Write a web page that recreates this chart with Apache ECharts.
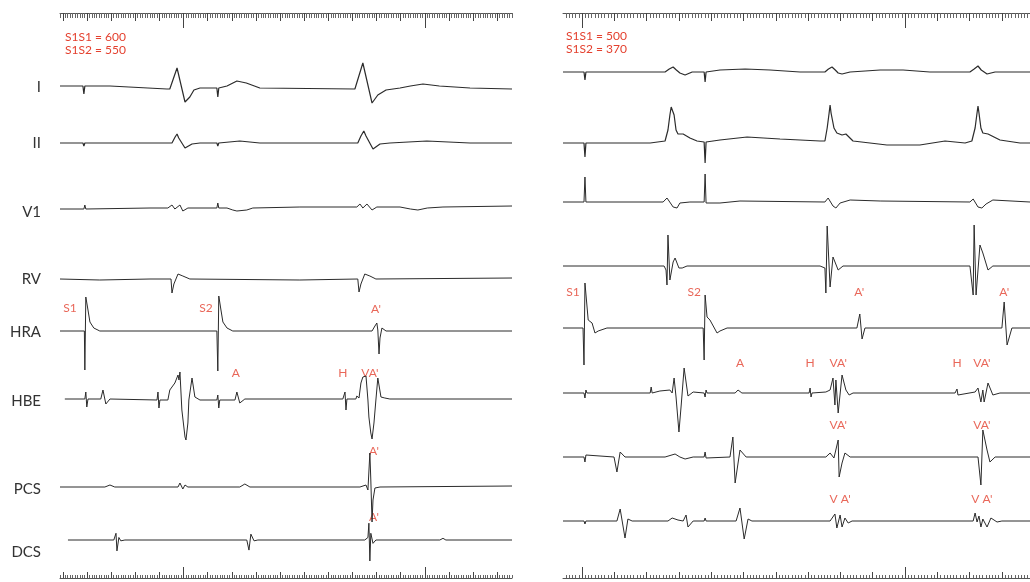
<!DOCTYPE html>
<html><head><meta charset="utf-8">
<script src="https://cdn.jsdelivr.net/npm/echarts@6/dist/echarts.min.js"></script>
<style>html,body{margin:0;padding:0;background:#fff}#c{width:1030px;height:582px}</style>
</head><body><div id="c"></div>
<script>
// ---------- DATA (time in ms, amplitude in arbitrary units, + = up) ----------
const channelNames = ['I','II','V1','RV','HRA','HBE','PCS','DCS'];

const leftProtocol = ['S1S1 = 600', 'S1S2 = 550'];
const rightProtocol = ['S1S1 = 500', 'S1S2 = 370'];

// Left panel traces
const L_I = [[-12,2],[83,2],[87,-6],[91,2],[195,2],[431,-1],[443,-1],[473,20],[506,-14],[526,-9],[543,-2],[568,0],[638,0],[642,-9],[646,0],[680,2],[721,7],[760,5],[816,0],[1210,-1],[1243,25],[1281,-15],[1305,-7],[1339,-2],[1397,0],[1440,2],[1492,4],[1560,2],[1687,0],[1861,-1]];
const L_II = [[-12,0],[83,0],[87,-3],[91,0],[452,0],[465,6],[473,9],[480,5],[506,-5],[535,-1],[568,0],[638,0],[642,-3],[646,0],[733,2],[816,0],[1222,0],[1235,7],[1247,12],[1256,7],[1285,-6],[1314,-1],[1355,0],[1508,2],[1687,0],[1861,0]];
const L_V1 = [[-12,-1],[87,-1],[91,3],[95,-1],[361,0],[435,0],[452,3],[464,-1],[485,3],[497,-3],[518,0],[638,0],[642,5],[646,0],[680,0],[704,-2],[721,-3],[762,-2],[787,0],[982,1],[1218,1],[1231,4],[1243,0],[1260,4],[1281,-2],[1301,1],[1397,1],[1440,-1],[1471,-2],[1510,0],[1575,1],[1861,2]];
const L_RV = [[-12,-1],[153,-2],[361,-1],[448,-1],[452,-15],[460,-6],[477,4],[497,2],[526,-1],[982,-2],[1222,-1],[1227,-14],[1235,-6],[1251,4],[1272,2],[1297,-1],[1861,0]];
const L_HRA = [[-12,0],[89,0],[91,-39],[95,34],[104,21],[112,9],[128,3],[153,0],[638,0],[642,-40],[646,35],[655,21],[663,9],[680,3],[704,0],[1281,0],[1293,5],[1301,8],[1305,1],[1310,-23],[1314,-7],[1322,3],[1339,0],[1861,0]];
const L_HBE = [[8,0],[91,0],[95,7],[99,-8],[104,0],[157,0],[166,9],[178,-5],[195,0],[390,-1],[394,7],[398,-9],[402,-1],[435,-1],[443,9],[464,16],[477,24],[481,19],[485,27],[493,-11],[506,-38],[510,-41],[518,-24],[522,-1],[535,21],[547,2],[568,-1],[638,-1],[642,4],[646,-9],[650,-1],[713,-1],[721,7],[733,-4],[754,0],[1160,0],[1169,7],[1173,-11],[1177,0],[1214,0],[1218,3],[1227,1],[1235,16],[1243,22],[1256,23],[1264,-1],[1268,-18],[1276,-34],[1281,-40],[1289,-24],[1297,-1],[1305,21],[1318,2],[1334,1],[1355,0],[1861,0]];
const L_PCS = [[-12,0],[174,0],[195,2],[215,0],[477,0],[485,4],[497,-2],[506,2],[518,0],[733,0],[754,3],[775,0],[1231,0],[1256,2],[1264,-3],[1272,34],[1276,7],[1281,-35],[1285,-13],[1293,-1],[1314,0],[1861,1]];
const L_DCS = [[21,0],[211,0],[220,8],[224,-13],[232,3],[240,-1],[257,0],[762,0],[771,-12],[779,7],[792,-1],[808,0],[1251,0],[1264,3],[1268,20],[1272,-25],[1276,8],[1285,-4],[1297,0],[1562,0],[1575,2],[1587,0],[1861,0]];

// Right panel traces
const R_I = [[-59,0],[6,0],[9,-8],[12,0],[257,0],[270,3],[282,5],[292,2],[303,-1],[319,-3],[341,0],[378,0],[381,-10],[384,0],[427,2],[505,3],[582,2],[675,0],[752,0],[763,3],[774,5],[784,2],[793,-1],[805,-2],[830,0],[923,2],[994,2],[1077,0],[1201,0],[1214,3],[1226,6],[1236,2],[1245,0],[1254,-2],[1279,0],[1387,0]];
const R_II = [[-59,0],[6,0],[9,-14],[12,0],[211,0],[257,2],[266,13],[272,28],[276,36],[279,38],[282,36],[285,28],[291,13],[297,9],[303,8],[313,9],[334,5],[356,2],[378,1],[381,-20],[384,1],[427,3],[511,6],[613,4],[737,2],[752,2],[759,15],[765,30],[768,38],[771,30],[780,15],[789,10],[805,8],[817,9],[839,2],[944,-2],[1046,-2],[1124,2],[1186,0],[1207,2],[1217,15],[1223,30],[1226,37],[1229,30],[1235,15],[1241,10],[1257,9],[1294,3],[1356,0],[1387,0]];
const R_V1 = [[-59,0],[6,0],[9,25],[12,0],[251,0],[263,4],[269,6],[282,-5],[294,-6],[303,-1],[334,0],[378,0],[381,28],[384,-1],[427,-1],[489,1],[752,0],[762,4],[777,-4],[786,-6],[799,-1],[830,2],[923,1],[1201,0],[1211,3],[1226,-5],[1238,-6],[1251,-2],[1272,2],[1387,0]];
const R_RV = [[-59,0],[254,0],[260,-4],[263,-19],[266,31],[272,-14],[282,4],[288,8],[300,-2],[310,-2],[325,0],[737,0],[752,-2],[755,-27],[759,40],[768,-21],[777,9],[793,-4],[808,0],[1201,0],[1207,-2],[1211,-29],[1214,41],[1220,-29],[1232,21],[1241,13],[1257,-4],[1272,0],[1387,0]];
const R_HRA = [[-59,0],[3,0],[6,-37],[9,45],[19,8],[31,5],[40,-5],[50,-3],[77,0],[375,0],[378,-32],[381,33],[387,11],[396,8],[402,7],[418,-5],[427,-3],[449,0],[851,0],[860,14],[867,-11],[876,0],[1300,0],[1307,26],[1316,-17],[1331,0],[1387,0]];
const R_HBE = [[-59,0],[6,0],[9,-5],[12,3],[15,0],[211,0],[214,6],[217,0],[241,2],[272,3],[279,0],[285,15],[291,-4],[300,-39],[307,-12],[316,25],[328,-3],[344,1],[378,0],[381,-4],[384,3],[387,0],[474,0],[483,3],[495,0],[703,0],[706,5],[709,-4],[712,0],[755,1],[768,3],[777,15],[783,-12],[786,13],[793,-20],[805,18],[817,3],[827,-2],[839,0],[1155,0],[1161,4],[1164,-2],[1170,0],[1217,1],[1226,5],[1235,-9],[1241,3],[1245,-9],[1257,10],[1272,-2],[1294,0],[1387,0]];
const R_PCS = [[-59,0],[6,0],[9,-5],[12,2],[15,0],[99,0],[108,-15],[118,5],[133,0],[257,0],[288,3],[303,0],[319,-2],[344,0],[378,0],[381,5],[384,-1],[390,0],[458,0],[467,20],[474,-26],[489,7],[508,0],[755,0],[768,4],[780,-1],[793,17],[796,-20],[805,-6],[814,4],[830,0],[1226,0],[1235,-28],[1241,27],[1254,7],[1263,-5],[1279,0],[1387,0]];
const R_DCS = [[-59,0],[6,0],[9,-3],[12,0],[108,0],[118,12],[133,-17],[142,2],[155,0],[266,0],[279,3],[297,1],[313,0],[322,6],[328,-6],[344,0],[378,0],[381,3],[384,0],[477,0],[489,13],[502,-18],[514,2],[526,0],[768,0],[783,7],[789,-7],[799,6],[805,-6],[814,3],[824,-2],[836,0],[1211,0],[1217,8],[1223,-1],[1229,5],[1235,-6],[1241,2],[1254,-6],[1266,3],[1285,-1],[1300,0],[1387,0]];

// Annotations: [channel, time, amplitude, text]
const leftMarks = [['HRA',29,23,'S1'],['HRA',593,23,'S2'],['HRA',1297,22,"A'"],['HBE',717,26,'A'],['HBE',1160,26,'H'],['HBE',1272,26,"VA'"],['PCS',1289,36,"A'"],['DCS',1289,27,"A'"]];
const rightMarks = [['HRA',-28,36,'S1'],['HRA',347,36,'S2'],['HRA',858,36,"A'"],['HRA',1307,36,"A'"],['HBE',489,30,'A'],['HBE',706,30,'H'],['HBE',793,30,"VA'"],['HBE',1161,30,'H'],['HBE',1238,30,"VA'"],['PCS',793,32,"VA'"],['PCS',1238,32,"VA'"],['DCS',799,22,"V A'"],['DCS',1238,22,"V A'"]];

// Time ruler
const rulerMinorStep = 10;
const rulerMidStep = 100;
const leftLongTicks = [500, 1500];
const rightLongTicks = [0, 1000];
const leftRange = [-12, 1861];
const rightRange = [-59, 1387];

// ---------- LAYOUT ----------
const RED = '#e4412f';
const INK = '#2b2b2b';
const panels = [
  {range:leftRange, left:60, right:518, bases:[88,143,208,278,331,399,487,548],
   traces:[L_I,L_II,L_V1,L_RV,L_HRA,L_HBE,L_PCS,L_DCS], marks:leftMarks, long:leftLongTicks,
   protocol:leftProtocol, protoX:65, protoY:37},
  {range:rightRange, left:563, right:0, bases:[72,143,202,266,328,393,457,521],
   traces:[R_I,R_II,R_V1,R_RV,R_HRA,R_HBE,R_PCS,R_DCS], marks:rightMarks, long:rightLongTicks,
   protocol:rightProtocol, protoX:566, protoY:36}
];
const rulerTopY = 13, rulerBottomY = 578;
const tickLen = {top:[5,8,15], bottom:[3,6,11]};
const labelY = [87,143,212,279,332,401,489,552];

const grids=[], xAxes=[], yAxes=[], series=[];
function addGrid(g){ grids.push(g); return grids.length-1; }

panels.forEach(p => {
  channelNames.forEach((name, ci) => {
    const gi = addGrid({left:p.left, right:p.right, top:p.bases[ci]-50, height:100});
    xAxes.push({gridIndex:gi, type:'value', min:p.range[0], max:p.range[1], show:false});
    yAxes.push({gridIndex:gi, type:'value', min:-50, max:50, show:false});
    series.push({type:'line', xAxisIndex:gi, yAxisIndex:gi, data:p.traces[ci], showSymbol:false, symbol:'none',
      lineStyle:{color:INK, width:(ci<2?1.2:1)}, clip:false, silent:true, animation:false});
    const m = p.marks.filter(d => d[0]===name).map(d => [d[1], d[2], d[3]]);
    if (m.length) series.push({type:'scatter', xAxisIndex:gi, yAxisIndex:gi, data:m, symbolSize:1,
      itemStyle:{color:'rgba(0,0,0,0)'}, clip:false, silent:true, animation:false,
      label:{show:true, position:'inside', formatter:q => q.value[2], color:RED, fontSize:12, fontFamily:'Lato'}});
  });
  const minor=[], mid=[];
  for (let v = Math.ceil(p.range[0]/rulerMinorStep)*rulerMinorStep; v <= p.range[1]; v += rulerMinorStep) minor.push(v);
  for (let v = Math.ceil(p.range[0]/rulerMidStep)*rulerMidStep; v <= p.range[1]; v += rulerMidStep) mid.push(v);
  [['top', rulerTopY], ['bottom', rulerBottomY]].forEach(([pos, y]) => {
    [minor, mid, p.long].forEach((vals, li) => {
      const gi = addGrid({left:p.left, right:p.right, top:(pos==='top'? y : y-20), height:20});
      xAxes.push({gridIndex:gi, type:'value', position:pos, min:p.range[0], max:p.range[1],
        axisLine:{show: li===0, onZero:false, lineStyle:{color:'#555', width:1}},
        axisTick:{show:true, inside:true, length:tickLen[pos][li], customValues:vals,
          lineStyle:{color: li===0 ? '#666' : '#444', width:1}},
        axisLabel:{show:false}, splitLine:{show:false}});
      yAxes.push({gridIndex:gi, type:'value', min:0, max:1, show:false});
    });
  });
});

const graphic = [];
channelNames.forEach((n, i) => graphic.push({type:'text', x:41, y:labelY[i], silent:true,
  style:{text:n, align:'right', textAlign:'right', verticalAlign:'middle', textVerticalAlign:'middle', fill:'#333', font:'15px Lato'}}));
panels.forEach(p => p.protocol.forEach((t, k) => graphic.push({type:'text', x:p.protoX, y:p.protoY+k*13, silent:true,
  style:{text:t, align:'left', textAlign:'left', verticalAlign:'middle', textVerticalAlign:'middle', fill:RED, font:'12px Lato'}})));

const chart = echarts.init(document.getElementById('c'));
chart.setOption({animation:false, backgroundColor:'#fff', grid:grids, xAxis:xAxes, yAxis:yAxes, series:series, graphic:graphic});
</script>
</body></html>
